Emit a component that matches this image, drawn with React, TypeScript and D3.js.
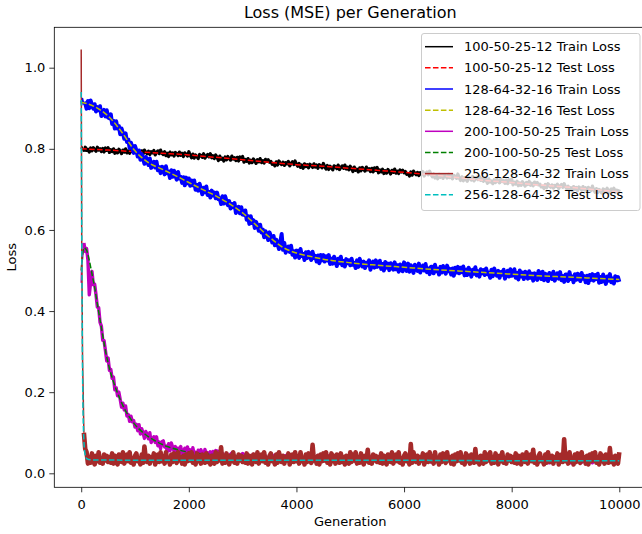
import React, { useEffect, useRef } from "react";
import * as d3 from "d3";

// losses below are stored as loss x 1000
// train runs sampled every 25 generations (plus the first steps)
const trainGens = [0, 10, ...d3.range(25, 10001, 25)];
const train200Gens = [0, 10, ...d3.range(25, 2501, 25), ...d3.range(2600, 10001, 100)];

const train100 = [800, 806,
  801, 793, 804, 796, 799, 792, 802, 795, 803, 798, 794, 804, 797, 800, 793, 801, 792, 802, 796, 803,
  791, 798, 793, 800, 789, 796, 790, 799, 794, 788, 797, 792, 800, 790, 795, 789, 798, 793, 797, 791,
  796, 789, 791, 785, 795, 787, 797, 792, 788, 794, 786, 793, 790, 796, 785, 791, 795, 788, 797, 789,
  786, 793, 783, 789, 781, 792, 785, 790, 782, 791, 788, 783, 792, 784, 789, 781, 790, 787, 782, 793,
  784, 778, 787, 777, 785, 781, 776, 786, 784, 779, 788, 777, 782, 786, 780, 788, 778, 783, 776, 785,
  779, 771, 782, 774, 777, 770, 780, 773, 781, 776, 772, 782, 775, 778, 771, 779, 770, 780, 774, 781,
  767, 774, 769, 776, 765, 772, 766, 775, 770, 764, 773, 768, 776, 766, 771, 765, 774, 769, 773, 767,
  769, 762, 764, 758, 768, 760, 770, 765, 761, 767, 759, 766, 763, 769, 758, 764, 768, 761, 770, 762,
  757, 764, 754, 760, 752, 763, 756, 761, 753, 762, 759, 754, 763, 755, 760, 752, 761, 758, 753, 764,
  756, 750, 759, 749, 757, 753, 748, 758, 756, 751, 760, 749, 754, 758, 752, 760, 750, 755, 748, 757,
  752, 744, 755, 747, 750, 743, 753, 746, 754, 749, 745, 755, 748, 751, 744, 752, 743, 753, 747, 754,
  741, 748, 743, 750, 739, 746, 740, 749, 744, 738, 747, 742, 750, 740, 745, 739, 748, 743, 747, 741,
  744, 737, 739, 733, 743, 735, 745, 740, 736, 742, 734, 741, 738, 744, 733, 739, 743, 736, 745, 737,
  731, 738, 728, 734, 726, 737, 730, 735, 727, 736, 733, 728, 737, 729, 734, 726, 735, 732, 727, 738,
  728, 722, 731, 721, 729, 725, 720, 730, 728, 723, 732, 721, 726, 730, 724, 732, 722, 727, 720, 729,
  723, 715, 726, 718, 721, 714, 724, 717, 725, 720, 716, 726, 719, 722, 715, 723, 714, 724, 718, 725,
  711, 718, 713, 720, 709, 716, 710, 719, 714, 708, 717, 712, 720, 710, 715, 709, 718, 713, 717, 711,
  713, 706, 708, 702, 712, 704, 714, 709, 705, 711, 703, 710, 707, 713, 702, 708, 712, 705, 714, 706,
  701, 708, 698, 704, 696, 707, 700, 705, 697, 706, 703, 698, 707, 699, 704, 696, 705, 702, 697, 708,
  699, 693, 702, 692, 700, 696, 691, 701, 699, 694, 703, 692, 697, 701, 695, 703, 693, 698, 691, 700];

const train128 = [918, 908,
  924, 909, 912, 899, 918, 900, 919, 908, 899, 910, 892, 903, 895, 905, 881, 890, 896, 880, 895, 877,
  875, 885, 861, 869, 850, 868, 850, 856, 836, 850, 839, 825, 838, 817, 823, 802, 815, 804, 790, 807,
  796, 781, 796, 773, 787, 776, 763, 780, 773, 760, 776, 753, 761, 768, 754, 768, 747, 755, 740, 756,
  754, 737, 757, 740, 744, 728, 747, 731, 746, 734, 724, 743, 727, 731, 716, 730, 710, 729, 715, 727,
  709, 722, 710, 722, 699, 711, 697, 714, 702, 688, 704, 693, 707, 686, 694, 680, 697, 685, 692, 678,
  692, 676, 678, 664, 683, 665, 683, 671, 661, 671, 653, 664, 656, 666, 642, 651, 657, 641, 656, 638,
  637, 648, 625, 634, 615, 634, 617, 624, 605, 620, 611, 598, 613, 594, 601, 582, 597, 588, 575, 594,
  584, 569, 585, 562, 576, 565, 553, 570, 590, 551, 568, 544, 553, 559, 546, 561, 539, 548, 532, 549,
  548, 531, 553, 536, 541, 526, 545, 531, 546, 535, 526, 546, 531, 536, 522, 537, 518, 538, 525, 538,
  522, 535, 525, 538, 516, 529, 517, 534, 524, 511, 529, 518, 534, 513, 523, 510, 528, 518, 525, 513,
  529, 514, 518, 506, 525, 509, 529, 518, 510, 522, 506, 519, 513, 525, 502, 514, 522, 507, 525, 509,
  511, 524, 504, 516, 500, 521, 507, 517, 501, 518, 512, 502, 520, 503, 513, 497, 515, 508, 498, 520,
  512, 499, 517, 497, 513, 504, 494, 514, 510, 499, 517, 495, 505, 512, 500, 516, 496, 505, 491, 509,
  509, 493, 514, 498, 504, 490, 509, 495, 511, 501, 492, 512, 498, 504, 490, 505, 487, 507, 495, 509,
  493, 507, 496, 510, 488, 502, 489, 507, 497, 485, 502, 492, 508, 488, 498, 485, 503, 493, 501, 489,
  505, 491, 494, 482, 502, 486, 505, 495, 487, 499, 482, 496, 490, 502, 480, 491, 499, 485, 503, 487,
  489, 503, 482, 494, 478, 500, 485, 495, 479, 497, 490, 480, 498, 482, 492, 475, 493, 487, 477, 499,
  491, 479, 497, 476, 492, 484, 474, 494, 489, 479, 497, 475, 485, 493, 480, 496, 476, 486, 472, 490,
  490, 474, 496, 479, 485, 471, 491, 477, 492, 482, 474, 494, 480, 486, 471, 487, 469, 489, 477, 491,
  475, 489, 479, 492, 470, 484, 472, 490, 479, 467, 485, 475, 491, 471, 480, 468, 486, 476, 484, 472];

const train200 = [470, 520,
  528, 568, 547, 554, 526, 440, 470, 498, 465, 466, 440, 410, 408, 372, 363, 328, 327, 303, 277, 284,
  254, 256, 234, 237, 206, 211, 191, 200, 182, 163, 173, 156, 166, 141, 145, 128, 141, 127, 130, 114,
  121, 105, 120, 97, 110, 99, 86, 103, 97, 85, 100, 76, 84, 90, 76, 90, 68, 77, 61, 78,
  80, 65, 67, 54, 73, 56, 75, 64, 55, 66, 49, 62, 55, 66, 44, 55, 62, 47, 65, 48,
  58, 41, 63, 46, 52, 37, 57, 43, 58, 48, 40, 59, 45, 51, 37, 53, 34, 54, 42, 56,
  52, 38, 50, 36, 49,
  34, 47, 33, 46, 32, 45, 31, 44, 30, 44,
  30, 43, 29, 44, 30, 43, 29, 42, 30, 43,
  29, 42, 30, 41, 28, 42, 29, 41, 28, 42,
  28, 41, 29, 42, 28, 40, 29, 41, 28, 40,
  28, 41, 27, 40, 28, 41, 27, 40, 28, 40,
  27, 40, 28, 39, 27, 40, 26, 39, 27, 40,
  26, 39, 27, 40, 26, 39, 27, 38, 26, 39];

const train256 = [1045, 560,
  285, 100, 60, 52, 24, 40, 26, 49, 34, 22, 43, 30, 52, 26, 37, 24, 46, 32, 43, 28,
  40, 26, 49, 24, 43, 32, 22, 46, 40, 28, 52, 24, 34, 46, 30, 52, 26, 37, 22, 43,
  49, 30, 34, 22, 46, 26, 66, 37, 28, 43, 24, 40, 32, 49, 22, 34, 46, 28, 52, 30,
  43, 24, 52, 30, 37, 22, 46, 28, 49, 34, 26, 52, 32, 40, 24, 43, 22, 46, 30, 49,
  32, 52, 26, 40, 22, 49, 30, 43, 24, 46, 37, 26, 49, 28, 40, 22, 43, 34, 24, 52,
  28, 46, 32, 64, 24, 40, 26, 49, 34, 22, 43, 30, 52, 26, 37, 24, 46, 32, 43, 28,
  40, 26, 49, 24, 43, 32, 22, 46, 40, 28, 52, 24, 34, 46, 30, 52, 26, 37, 22, 43,
  49, 30, 34, 22, 46, 26, 52, 37, 28, 43, 24, 40, 32, 49, 22, 34, 46, 28, 52, 30,
  43, 24, 52, 30, 37, 22, 46, 28, 49, 34, 26, 70, 32, 40, 24, 43, 22, 46, 30, 49,
  32, 52, 26, 40, 22, 49, 30, 43, 24, 46, 37, 26, 49, 28, 40, 22, 43, 34, 24, 52,
  28, 46, 32, 52, 24, 40, 26, 49, 34, 22, 43, 30, 58, 26, 37, 24, 46, 32, 43, 28,
  40, 26, 49, 24, 43, 32, 22, 46, 40, 28, 52, 24, 34, 46, 30, 52, 26, 37, 22, 43,
  49, 30, 34, 22, 72, 26, 52, 37, 28, 43, 24, 40, 32, 49, 22, 34, 46, 28, 52, 30,
  43, 24, 52, 30, 37, 22, 46, 28, 49, 34, 26, 52, 32, 40, 24, 43, 22, 46, 30, 49,
  32, 52, 26, 40, 22, 49, 30, 43, 24, 46, 37, 26, 60, 28, 40, 22, 43, 34, 24, 52,
  28, 46, 32, 52, 24, 40, 26, 49, 34, 22, 43, 30, 52, 26, 37, 24, 46, 32, 43, 28,
  40, 26, 49, 24, 43, 32, 22, 46, 40, 28, 52, 24, 34, 46, 30, 58, 26, 37, 22, 43,
  49, 30, 34, 22, 46, 26, 52, 37, 28, 43, 24, 40, 32, 49, 22, 34, 46, 28, 84, 30,
  43, 24, 52, 30, 37, 22, 46, 28, 49, 34, 26, 52, 32, 40, 24, 43, 22, 46, 30, 49,
  32, 52, 26, 40, 22, 49, 30, 43, 24, 46, 37, 26, 62, 28, 40, 22, 43, 34, 24, 52];

const test100Gens = [0, 500, 1000, 1500, 2000, 2500, 3000, 3500, 4000, 4500, 5000,
  5500, 6000, 6500, 7000, 7500, 8000, 8500, 9000, 9500, 10000];
const test100 = [800, 797, 793, 789, 785, 779, 773, 767, 761, 757, 752,
  747, 742, 736, 729, 722, 717, 711, 706, 700, 694];

const test128Gens = [0, 250, 500, 750, 1000, 1250, 1500, 1750, 2000, 2250, 2500, 2750,
  3000, 3250, 3500, 3750, 4000, 4250, 4500, 5000, 5500, 6000, 6500, 7000, 7500,
  8000, 8500, 9000, 9500, 10000];
const test128 = [915, 904, 881, 842, 795, 766, 750, 734, 717, 700, 684, 665,
  642, 612, 582, 557, 543, 535, 528, 519, 513, 508, 503, 499, 495,
  491, 487, 484, 481, 478];

const test200Gens = [0, 50, 100, 150, 200, 250, 300, 350, 400, 450, 500, 600, 700,
  800, 900, 1000, 1200, 1400, 1600, 1800, 2000, 2500, 3000, 4000, 5000, 6000, 8000, 10000];
const test200 = [500, 556, 550, 525, 492, 458, 418, 378, 340, 303, 272, 225, 190,
  160, 138, 120, 95, 78, 66, 58, 52, 46, 42, 38, 37, 36, 35, 34];

const test256Gens = [0, 10, 25, 50, 75, 100, 150, 200, 500, 1000, 2000, 4000, 6000, 8000, 10000];
const test256 = [940, 600, 250, 80, 45, 36, 34, 33, 33, 32, 32, 32, 32, 31, 31];

const labels = [
  "100-50-25-12 Train Loss", "100-50-25-12 Test Loss",
  "128-64-32-16 Train Loss", "128-64-32-16 Test Loss",
  "200-100-50-25 Train Loss", "200-100-50-25 Test Loss",
  "256-128-64-32 Train Loss", "256-128-64-32 Test Loss",
];
const colors = ["#000000", "#ff0000", "#0000ff", "#bfbf00", "#bf00bf", "#008000", "#a52a2a", "#00bfbf"];
const xTicks = [0, 2000, 4000, 6000, 8000, 10000];
const yTicks = [0, 0.2, 0.4, 0.6, 0.8, 1.0];

const FONT = "DejaVu Sans";

export default function App() {
  const svgRef = useRef<SVGSVGElement>(null);

  useEffect(() => {
    const svg = d3.select(svgRef.current);
    svg.selectAll("*").remove();

    const left = 54.3, right = 646.2, top = 27.3, bottom = 487.3;
    const x = d3.scaleLinear().domain([-500, 10500]).range([left, right]);
    const y = d3.scaleLinear().domain([-0.0345, 1.0996]).range([bottom, top]);

    // band: stroke used on the jittery train runs
    const series = [
      { gens: trainGens, vals: train100, dashed: false, band: 3.2 },
      { gens: test100Gens, vals: test100, dashed: true, band: 1.5 },
      { gens: trainGens, vals: train128, dashed: false, band: 4 },
      { gens: test128Gens, vals: test128, dashed: true, band: 1.5 },
      { gens: train200Gens, vals: train200, dashed: false, band: 3.4 },
      { gens: test200Gens, vals: test200, dashed: true, band: 1.5 },
      { gens: trainGens, vals: train256, dashed: false, band: 4.6 },
      { gens: test256Gens, vals: test256, dashed: true, band: 1.5 },
    ];

    svg.append("rect").attr("width", 642).attr("height", 534).attr("fill", "#fff");

    svg.append("defs").append("clipPath").attr("id", "plotclip")
      .append("rect").attr("x", left).attr("y", top)
      .attr("width", right - left).attr("height", bottom - top);

    const plot = svg.append("g").attr("clip-path", "url(#plotclip)");

    series.forEach((s, i) => {
      const n = Math.min(s.gens.length, s.vals.length);
      const pts = s.gens.slice(0, n).map((g, k) => [g, s.vals[k] / 1000] as [number, number]);
      const line = d3.line<[number, number]>()
        .x((d) => x(d[0]))
        .y((d) => y(d[1]))
        .curve(s.dashed ? d3.curveMonotoneX : d3.curveLinear);
      // the original has one point per generation, which fills the jitter
      // in solid; a wider stroke does the same on the 25-step samples
      const parts = s.dashed
        ? [{ p: pts, w: 1.5 }]
        : [{ p: pts.slice(0, 4), w: 1.5 }, { p: pts.slice(3), w: s.band }];
      parts.forEach((part) => {
        plot.append("path")
          .attr("d", line(part.p))
          .attr("fill", "none")
          .attr("stroke", colors[i])
          .attr("stroke-width", part.w)
          .attr("stroke-linejoin", "round")
          .attr("stroke-dasharray", s.dashed ? "5.55,2.4" : null);
      });
    });

    // frame
    svg.append("rect")
      .attr("x", left).attr("y", top)
      .attr("width", right - left).attr("height", bottom - top)
      .attr("fill", "none").attr("stroke", "#000").attr("stroke-width", 0.8);

    const xAxis = svg.append("g")
      .attr("transform", `translate(0,${bottom})`)
      .call(d3.axisBottom(x).tickValues(xTicks).tickFormat(d3.format("d")).tickSize(5).tickPadding(7).tickSizeOuter(0));
    const yAxis = svg.append("g")
      .attr("transform", `translate(${left},0)`)
      .call(d3.axisLeft(y).tickValues(yTicks).tickFormat(d3.format(".1f")).tickSize(5).tickPadding(4).tickSizeOuter(0));
    [xAxis, yAxis].forEach((a) => {
      a.select(".domain").remove();
      a.selectAll("line").attr("stroke", "#000").attr("stroke-width", 0.8);
      a.selectAll("text").attr("fill", "#000").style("font-family", FONT).style("font-size", "13px");
    });

    svg.append("text")
      .attr("x", (left + right) / 2).attr("y", 18)
      .attr("text-anchor", "middle")
      .style("font-family", FONT).style("font-size", "16px")
      .text("Loss (MSE) per Generation");

    svg.append("text")
      .attr("x", (left + right) / 2).attr("y", 526)
      .attr("text-anchor", "middle")
      .style("font-family", FONT).style("font-size", "13px")
      .text("Generation");

    svg.append("text")
      .attr("transform", `translate(16,${(top + bottom) / 2}) rotate(-90)`)
      .attr("text-anchor", "middle")
      .style("font-family", FONT).style("font-size", "13px")
      .text("Loss");

    // legend
    const lg = svg.append("g");
    lg.append("rect")
      .attr("x", 421.5).attr("y", 33.5).attr("width", 218.5).attr("height", 177)
      .attr("rx", 2.5)
      .attr("fill", "#fff").attr("fill-opacity", 0.8)
      .attr("stroke", "#cccccc").attr("stroke-width", 1);

    labels.forEach((lab, i) => {
      const yy = 46.7 + i * 21.15;
      lg.append("line")
        .attr("x1", 425).attr("x2", 453).attr("y1", yy).attr("y2", yy)
        .attr("stroke", colors[i]).attr("stroke-width", 1.5)
        .attr("stroke-dasharray", series[i].dashed ? "5.55,2.4" : null);
      lg.append("text")
        .attr("x", 464).attr("y", yy)
        .attr("dominant-baseline", "central")
        .style("font-family", FONT).style("font-size", "13px")
        .text(lab);
    });
  }, []);

  return (
    <svg
      ref={svgRef}
      width={642}
      height={534}
      style={{ position: "absolute", left: 0, top: 0 }}
    />
  );
}
